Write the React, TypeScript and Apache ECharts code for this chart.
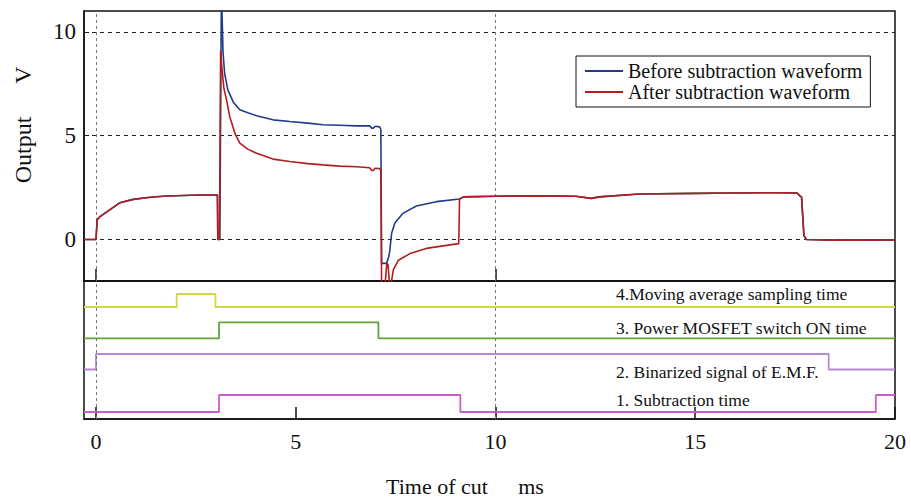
import React, { useEffect, useRef } from "react";
import * as echarts from "echarts";

// ---- Data ----
const xTickValues = [0, 5, 10, 15, 20];
const yTickValues = [0, 5, 10];
const gridTimes = [0, 10];

const timeBefore = [
  -0.3, 0, 0.03, 0.1, 0.36, 0.6, 0.93, 1.36, 1.77, 2.2, 2.6, 3.04, 3.05, 3.1, 3.14, 3.18, 3.22, 3.3, 3.44,
  3.6, 3.8, 4.02, 4.43, 4.85, 5.3, 5.68, 6.1, 6.52, 6.85, 6.9, 6.94, 6.99, 7.1, 7.13, 7.15, 7.27, 7.32,
  7.35, 7.4, 7.48, 7.69, 8.02, 8.52, 9.1, 9.2, 10, 11, 12, 12.4, 12.6, 13.6, 15, 16, 17, 17.55, 17.62,
  17.66, 17.72, 17.78, 18.5, 20,
];
const valueBefore = [
  0, 0, 0.95, 1.1, 1.45, 1.77, 1.93, 2.03, 2.09, 2.12, 2.14, 2.14, 0, 0, 12, 9.0, 8.0, 7.2, 6.6,
  6.25, 6.1, 5.96, 5.76, 5.68, 5.6, 5.52, 5.5, 5.47, 5.47, 5.36, 5.36, 5.45, 5.42, 5.3, -1.15, -1.15, -0.9,
  -0.6, 0.3, 0.79, 1.27, 1.61, 1.82, 1.95, 2.05, 2.08, 2.1, 2.08, 1.98, 2.05, 2.19, 2.22, 2.24, 2.25, 2.24, 2.1,
  2.05, 0.2, 0, -0.03, -0.02,
];

const timeAfter = [
  -0.3, 0, 0.03, 0.1, 0.36, 0.6, 0.93, 1.36, 1.77, 2.2, 2.6, 3.04, 3.05, 3.09, 3.12, 3.15, 3.2, 3.27, 3.35,
  3.48, 3.6, 3.8, 4.02, 4.43, 4.85, 5.3, 5.68, 6.1, 6.52, 6.85, 6.9, 6.94, 6.99, 7.1, 7.13, 7.15, 7.22,
  7.28, 7.31, 7.36, 7.4, 7.44, 7.57, 7.86, 8.27, 8.69, 9.08, 9.1, 9.2, 10, 11, 12, 12.4, 12.6, 13.6, 15,
  16, 17, 17.55, 17.62, 17.66, 17.72, 17.78, 18.5, 20,
];
const valueAfter = [
  0, 0, 0.95, 1.1, 1.45, 1.77, 1.93, 2.03, 2.09, 2.12, 2.14, 2.14, 0, 0, 9.1, 8.3, 7.3, 6.7, 5.9,
  5.1, 4.64, 4.35, 4.15, 3.87, 3.75, 3.65, 3.59, 3.53, 3.5, 3.45, 3.32, 3.32, 3.43, 3.42, 3.3, -2.5, -2.5,
  -1.15, -1.2, -2.5, -2.0, -1.48, -1.0, -0.68, -0.43, -0.31, -0.2, 1.95, 2.05, 2.08, 2.1, 2.08, 1.98, 2.05, 2.19, 2.22,
  2.24, 2.25, 2.24, 2.1, 2.05, 0.2, 0, -0.03, -0.02,
];

// Digital signals (0 = low, 1 = high), level holds from each time to the next
const movingAvgTimes = [-0.3, 2.02, 2.99, 20];
const movingAvgLevels = [0, 1, 0, 0];
const mosfetTimes = [-0.3, 3.08, 7.07, 20];
const mosfetLevels = [0, 1, 0, 0];
const emfTimes = [-0.3, 0.0, 18.34, 20];
const emfLevels = [0, 1, 0, 0];
const subtractTimes = [-0.3, 3.08, 9.12, 19.52, 20];
const subtractLevels = [0, 1, 0, 1, 1];

const legendNames = ["Before subtraction waveform", "After subtraction waveform"];
const signalLabels = [
  "4.Moving average sampling time",
  "3. Power MOSFET switch ON time",
  "2. Binarized signal of E.M.F.",
  "1. Subtraction time",
];

const FONT = "'Liberation Serif', 'Times New Roman', serif";

function pairs(ts: number[], vs: number[]) {
  return ts.map((t, i) => [t, vs[i]]);
}

export default function App() {
  const ref = useRef<HTMLDivElement>(null);
  useEffect(() => {
    if (!ref.current) return;
    const chart = echarts.init(ref.current, undefined, { renderer: "svg" });

    const signalSeries = (
      times: number[],
      levels: number[],
      base: number,
      amp: number,
      color: string,
      extra: any = {}
    ) => ({
      type: "line",
      xAxisIndex: 1,
      yAxisIndex: 1,
      step: "end",
      symbol: "none",
      silent: true,
      lineStyle: { color, width: 1.8 },
      data: times.map((t, i) => [t, base + levels[i] * amp]),
      ...extra,
    });

    const option: any = {
      animation: false,
      backgroundColor: "#fff",
      textStyle: { fontFamily: FONT },
      grid: [
        { left: 84, right: 16, top: 11, height: 270, show: true, borderColor: "#111", borderWidth: 1.5 },
        { left: 84, right: 16, top: 281, height: 138, show: true, borderColor: "#111", borderWidth: 1.5 },
      ],
      xAxis: [
        {
          gridIndex: 0,
          type: "value",
          min: -0.3,
          max: 20,
          axisLine: { show: true, onZero: false, lineStyle: { color: "#111", width: 1.5 } },
          axisTick: { show: true, inside: true, length: 12, customValues: gridTimes, lineStyle: { color: "#111", width: 1.5 } },
          axisLabel: { show: false },
          splitLine: { show: false },
        },
        {
          gridIndex: 1,
          type: "value",
          min: -0.3,
          max: 20,
          axisLine: { show: true, onZero: false, lineStyle: { color: "#111", width: 1.5 } },
          axisTick: { show: true, inside: true, length: 12, customValues: xTickValues, lineStyle: { color: "#111", width: 1.5 } },
          axisLabel: { show: true, customValues: xTickValues, fontSize: 22, color: "#111", margin: 11, fontFamily: FONT },
          splitLine: { show: false },
        },
      ],
      yAxis: [
        {
          gridIndex: 0,
          type: "value",
          min: -2,
          max: 11,
          axisLine: { show: true, onZero: false, lineStyle: { color: "#111", width: 1.5 } },
          axisTick: { show: true, inside: true, length: 5, customValues: yTickValues, lineStyle: { color: "#111" } },
          axisLabel: { show: true, customValues: yTickValues, fontSize: 23, color: "#111", margin: 8, fontFamily: FONT },
          splitLine: { show: false },
        },
        {
          gridIndex: 1,
          type: "value",
          min: 0,
          max: 138,
          show: false,
          axisLine: { onZero: false },
          splitLine: { show: false },
        },
      ],
      legend: {
        data: legendNames,
        orient: "vertical",
        left: 576,
        top: 56,
        padding: [5, 8, 5, 9],
        itemGap: 1,
        itemWidth: 38,
        itemHeight: 2,
        icon: "rect",
        backgroundColor: "#fff",
        borderColor: "#111",
        borderWidth: 1,
        textStyle: { fontFamily: FONT, fontSize: 20, color: "#111", lineHeight: 20 },
      },
      series: [
        {
          name: legendNames[0],
          type: "line",
          xAxisIndex: 0,
          yAxisIndex: 0,
          symbol: "none",
          z: 2,
          lineStyle: { color: "#1f3d8c", width: 1.6 },
          itemStyle: { color: "#1f3d8c" },
          data: pairs(timeBefore, valueBefore),
          markLine: {
            silent: true,
            symbol: "none",
            label: { show: false },
            z: 1,
            data: [
              ...yTickValues.map((v) => ({ yAxis: v, lineStyle: { color: "#222", type: [4, 4], width: 1 } })),
              ...gridTimes.map((v) => ({ xAxis: v, lineStyle: { color: "#777", type: [3, 3], width: 1 } })),
            ],
          },
        },
        {
          name: legendNames[1],
          type: "line",
          xAxisIndex: 0,
          yAxisIndex: 0,
          symbol: "none",
          z: 3,
          lineStyle: { color: "#b01e1e", width: 1.6 },
          itemStyle: { color: "#b01e1e" },
          data: pairs(timeAfter, valueAfter),
        },
        signalSeries(movingAvgTimes, movingAvgLevels, 112, 13, "#d2d64a", {
          markLine: {
            silent: true,
            symbol: "none",
            label: { show: false },
            data: gridTimes.map((v) => ({ xAxis: v, lineStyle: { color: "#777", type: [3, 3], width: 1 } })),
          },
        }),
        signalSeries(mosfetTimes, mosfetLevels, 80.7, 16, "#62a338"),
        signalSeries(emfTimes, emfLevels, 49.5, 15.5, "#b48ad2"),
        signalSeries(subtractTimes, subtractLevels, 7, 17, "#cc5ccc"),
      ],
      graphic: [
        ...signalLabels.map((txt, i) => ({
          type: "text",
          x: 616,
          y: [293.5, 327.5, 371.5, 400][i],
          silent: true,
          style: { text: txt, fontFamily: FONT, fontSize: 17.5, fill: "#111", align: "left", verticalAlign: "middle" },
        })),
        {
          type: "text",
          x: 23,
          y: 150,
          rotation: Math.PI / 2,
          silent: true,
          style: { text: "Output", fontFamily: FONT, fontSize: 24, fill: "#111", align: "center", verticalAlign: "middle" },
        },
        {
          type: "text",
          x: 23,
          y: 75,
          rotation: Math.PI / 2,
          silent: true,
          style: { text: "V", fontFamily: FONT, fontSize: 24, fill: "#111", align: "center", verticalAlign: "middle" },
        },
        {
          type: "text",
          x: 437,
          y: 486,
          silent: true,
          style: { text: "Time of cut", fontFamily: FONT, fontSize: 22, fill: "#111", align: "center", verticalAlign: "middle" },
        },
        {
          type: "text",
          x: 531,
          y: 486,
          silent: true,
          style: { text: "ms", fontFamily: FONT, fontSize: 22, fill: "#111", align: "center", verticalAlign: "middle" },
        },
      ],
    };
    chart.setOption(option);
    return () => chart.dispose();
  }, []);
  return <div ref={ref} style={{ width: 911, height: 500, position: "absolute", left: 0, top: 0 }} />;
}
